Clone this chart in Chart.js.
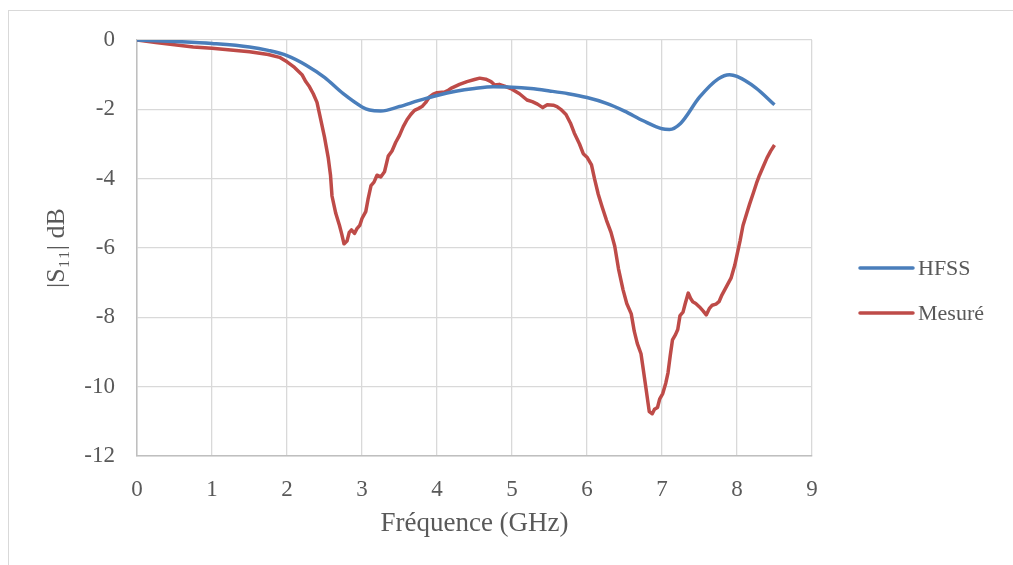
<!DOCTYPE html>
<html>
<head>
<meta charset="utf-8">
<script src="https://cdn.jsdelivr.net/npm/chart.js@4.4.1/dist/chart.umd.min.js"></script>
<style>
html,body{margin:0;padding:0;background:#fff;}
#wrap{width:1013px;height:565px;position:relative;}
</style>
</head>
<body>
<div id="wrap"><canvas id="c" width="1013" height="565"></canvas></div>
<script>
const seriesNames = ["HFSS", "Mesuré"];
const xTitle = "Fréquence (GHz)";
const yTitle = "|S₁₁| dB";

const hfssFreq = [0, 0.5, 1, 1.5, 1.75, 2, 2.25, 2.5, 2.75, 3, 3.1, 3.25, 3.5, 3.75, 4, 4.25, 4.5, 4.75, 5, 5.25, 5.5, 5.75, 6, 6.25, 6.5, 6.75, 7, 7.1, 7.25, 7.5, 7.75, 7.9, 8, 8.25, 8.5];
const hfssS11 = [0, -0.04, -0.1, -0.2, -0.3, -0.45, -0.72, -1.08, -1.55, -1.93, -2.02, -2.05, -1.92, -1.75, -1.6, -1.48, -1.4, -1.35, -1.36, -1.4, -1.47, -1.55, -1.66, -1.82, -2.05, -2.33, -2.56, -2.58, -2.4, -1.65, -1.12, -1.0, -1.05, -1.38, -1.87];

const mesFreq = [0, 0.25, 0.5, 0.75, 1.0, 1.25, 1.5, 1.75, 1.9, 2.0, 2.1, 2.2, 2.25, 2.3, 2.35, 2.4, 2.45, 2.5, 2.55, 2.58, 2.6, 2.65, 2.7, 2.73, 2.76, 2.8, 2.83, 2.86, 2.9, 2.93, 2.97, 3.0, 3.05, 3.08, 3.12, 3.16, 3.2, 3.25, 3.3, 3.35, 3.4, 3.45, 3.5, 3.55, 3.6, 3.65, 3.7, 3.75, 3.8, 3.85, 3.9, 3.95, 4.0, 4.1, 4.15, 4.2, 4.3, 4.4, 4.5, 4.57, 4.65, 4.72, 4.77, 4.83, 4.9, 5.0, 5.1, 5.2, 5.27, 5.34, 5.41, 5.47, 5.55, 5.6, 5.65, 5.72, 5.78, 5.83, 5.9, 5.95, 6.0, 6.06, 6.1, 6.15, 6.2, 6.26, 6.32, 6.37, 6.42, 6.48, 6.53, 6.59, 6.63, 6.67, 6.72, 6.75, 6.79, 6.83, 6.87, 6.9, 6.94, 6.97, 7.01, 7.05, 7.08, 7.11, 7.14, 7.18, 7.21, 7.24, 7.28, 7.31, 7.35, 7.38, 7.41, 7.45, 7.5, 7.55, 7.59, 7.63, 7.67, 7.72, 7.76, 7.8, 7.85, 7.92, 7.97, 8.0, 8.04, 8.08, 8.13, 8.17, 8.22, 8.26, 8.3, 8.35, 8.4, 8.45, 8.5];
const mesS11 = [0, -0.07, -0.14, -0.2, -0.24, -0.29, -0.34, -0.42, -0.5, -0.63, -0.79, -1.0, -1.2, -1.35, -1.55, -1.8, -2.3, -2.8, -3.4, -3.9, -4.5, -5.0, -5.35, -5.6, -5.88, -5.8, -5.55, -5.48, -5.58, -5.45, -5.35, -5.15, -4.95, -4.6, -4.2, -4.1, -3.9, -3.95, -3.8, -3.35, -3.2, -2.95, -2.75, -2.5, -2.3, -2.15, -2.03, -1.98, -1.92, -1.8, -1.64, -1.56, -1.52, -1.5, -1.45, -1.38, -1.28, -1.2, -1.14, -1.1, -1.13, -1.2, -1.3, -1.28, -1.33, -1.42, -1.55, -1.73, -1.78, -1.85, -1.95, -1.87, -1.88, -1.92, -2.0, -2.15, -2.4, -2.68, -3.0, -3.28, -3.38, -3.6, -4.0, -4.45, -4.8, -5.2, -5.55, -5.95, -6.6, -7.2, -7.6, -7.9, -8.4, -8.75, -9.05, -9.5, -10.1, -10.72, -10.78, -10.65, -10.6, -10.35, -10.2, -9.9, -9.6, -9.1, -8.65, -8.5, -8.35, -7.95, -7.85, -7.6, -7.3, -7.45, -7.55, -7.6, -7.7, -7.82, -7.93, -7.75, -7.65, -7.62, -7.55, -7.35, -7.15, -6.87, -6.5, -6.2, -5.8, -5.35, -5.0, -4.72, -4.4, -4.13, -3.9, -3.65, -3.4, -3.2, -3.03];

const xTicksMin = 0, xTicksMax = 9, xStep = 1;
const yTicksMin = -12, yTicksMax = 0, yStep = 2;

const FONT = "'Liberation Serif', 'Times New Roman', serif";
const TXT = "#595959";

const toPts = (xs, ys) => xs.map((x, i) => ({x: x, y: ys[i]}));

const frame = {
  id: 'frame',
  beforeDraw(chart) {
    const ctx = chart.ctx;
    ctx.save();
    ctx.fillStyle = '#fff';
    ctx.fillRect(0, 0, chart.width, chart.height);
    ctx.strokeStyle = '#d9d9d9';
    ctx.lineWidth = 1;
    ctx.strokeRect(8.5, 10.5, chart.width + 20, chart.height + 20);
    ctx.restore();
  }
};

const legendPlug = {
  id: 'legendPlug',
  afterDraw(chart) {
    const ctx = chart.ctx;
    ctx.save();
    const x0 = 860, x1 = 913, ys = [268, 313];
    chart.data.datasets.forEach((ds, i) => {
      ctx.strokeStyle = ds.borderColor;
      ctx.lineWidth = 3.5;
      ctx.lineCap = 'round';
      ctx.beginPath();
      ctx.moveTo(x0, ys[i]);
      ctx.lineTo(x1, ys[i]);
      ctx.stroke();
      ctx.fillStyle = TXT;
      ctx.font = "22px " + FONT;
      ctx.textBaseline = 'middle';
      ctx.textAlign = 'left';
      ctx.fillText(ds.label, 918, ys[i] + 1);
    });
    ctx.restore();
  }
};

new Chart(document.getElementById('c'), {
  type: 'line',
  data: {
    datasets: [
      {label: seriesNames[0], data: toPts(hfssFreq, hfssS11), borderColor: '#4a7ebb', borderWidth: 3.5, pointRadius: 0, cubicInterpolationMode: 'monotone', fill: false},
      {label: seriesNames[1], data: toPts(mesFreq, mesS11), borderColor: '#be4b48', borderWidth: 3.5, pointRadius: 0, tension: 0, fill: false, borderJoinStyle: 'round'}
    ]
  },
  options: {
    responsive: false,
    animation: false,
    events: [],
    layout: {padding: {left: 10, right: 201, top: 40, bottom: 0}},
    plugins: {legend: {display: false}, tooltip: {enabled: false}},
    scales: {
      x: {
        type: 'linear', min: xTicksMin, max: xTicksMax,
        ticks: {stepSize: xStep, color: TXT, font: {family: FONT, size: 23}, padding: 20, maxRotation: 0},
        grid: {color: '#d9d9d9', lineWidth: 1.3, drawTicks: false},
        border: {color: '#bfbfbf', width: 1.5},
        title: {display: true, text: xTitle, color: TXT, font: {family: FONT, size: 27}, padding: {top: 0, bottom: 25}},
        afterFit(s) { s.height = 109; }
      },
      y: {
        type: 'linear', min: yTicksMin, max: yTicksMax,
        ticks: {stepSize: yStep, color: TXT, font: {family: FONT, size: 23}, padding: 22},
        grid: {color: '#d9d9d9', lineWidth: 1.3, drawTicks: false},
        border: {color: '#bfbfbf', width: 1.5},
        title: {display: true, text: yTitle, color: TXT, font: {family: FONT, size: 26}, padding: {top: 32, bottom: 0}},
        afterFit(s) { s.width = 127; }
      }
    }
  },
  plugins: [frame, legendPlug]
});
</script>
</body>
</html>
